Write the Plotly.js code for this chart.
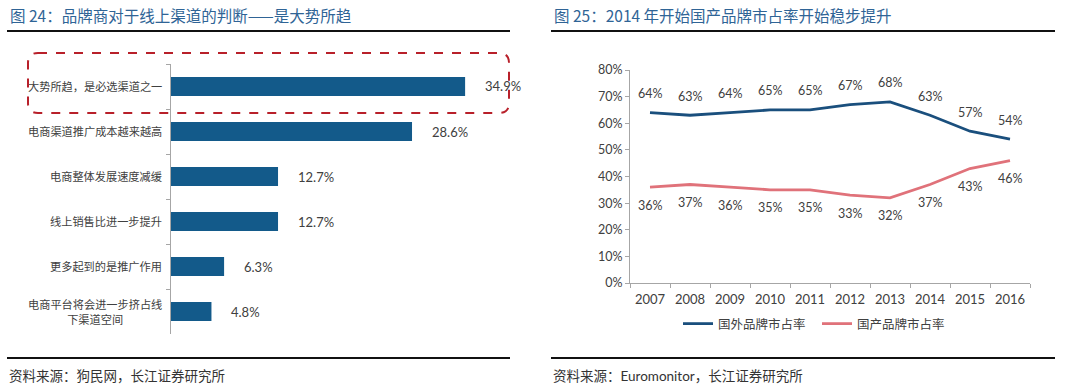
<!DOCTYPE html>
<html>
<head>
<meta charset="utf-8">
<script src="https://cdn.plot.ly/plotly-3.0.1.min.js"></script>
<style>html,body{margin:0;padding:0;background:#fff;}#chart{width:1080px;height:389px;}</style>
</head>
<body>
<div id="chart"></div>
<script>
// ---- Data ----
const barCategories = ['大势所趋，是必选渠道之一', '电商渠道推广成本越来越高', '电商整体发展速度减缓', '线上销售比进一步提升', '更多起到的是推广作用', '电商平台将会进一步挤占线<br>下渠道空间'];
const barValues = [34.9, 28.6, 12.7, 12.7, 6.3, 4.8];

const years = ['2007', '2008', '2009', '2010', '2011', '2012', '2013', '2014', '2015', '2016'];
const foreignShare = [64, 63, 64, 65, 65, 67, 68, 63, 57, 54];
const domesticShare = [36, 37, 36, 35, 35, 33, 32, 37, 43, 46];

const seriesNames = ['国外品牌市占率', '国产品牌市占率'];
const leftTitle = '图 24：品牌商对于线上渠道的判断——是大势所趋';
const rightTitle = '图 25：2014 年开始国产品牌市占率开始稳步提升';
const leftSource = '资料来源：狗民网，长江证券研究所';
const rightSource = '资料来源：Euromonitor，长江证券研究所';

// ---- Layout helpers (pixel -> paper) ----
const W = 1080, H = 389;
const px = x => x / W;
const py = y => 1 - y / H;

const FONT = "Lato, 'Noto Sans CJK SC', sans-serif";
const CJK = "'Noto Sans CJK SC', sans-serif";
const TXT = '#404040';
const BAR = '#135a8a';
const BLUE = '#1a4f7d';
const PINK = '#e0727a';
const AXIS = '#a6a6a6';

const traces = [
  {
    type: 'bar', orientation: 'h',
    x: barValues, y: barCategories,
    xaxis: 'x', yaxis: 'y',
    marker: {color: BAR},
    width: 0.42,
    showlegend: false, hoverinfo: 'skip'
  },
  {
    type: 'scatter', mode: 'lines',
    x: years, y: foreignShare, name: seriesNames[0],
    xaxis: 'x2', yaxis: 'y2',
    line: {color: BLUE, width: 2.8},
    hoverinfo: 'skip'
  },
  {
    type: 'scatter', mode: 'lines',
    x: years, y: domesticShare, name: seriesNames[1],
    xaxis: 'x2', yaxis: 'y2',
    line: {color: PINK, width: 2.8},
    hoverinfo: 'skip'
  }
];

const annotations = [];
// titles
annotations.push({xref: 'paper', yref: 'paper', x: px(8), y: py(15), xanchor: 'left', yanchor: 'middle', showarrow: false,
  text: leftTitle, font: {family: CJK, size: 15.5, color: '#2f6496'}});
annotations.push({xref: 'paper', yref: 'paper', x: px(552), y: py(15), xanchor: 'left', yanchor: 'middle', showarrow: false,
  text: rightTitle, font: {family: CJK, size: 15.5, color: '#2f6496'}});
// sources
annotations.push({xref: 'paper', yref: 'paper', x: px(7), y: py(376), xanchor: 'left', yanchor: 'middle', showarrow: false,
  text: leftSource, font: {family: FONT, size: 13.5, color: '#333333'}});
annotations.push({xref: 'paper', yref: 'paper', x: px(551), y: py(376), xanchor: 'left', yanchor: 'middle', showarrow: false,
  text: rightSource, font: {family: FONT, size: 13.5, color: '#333333'}});

// bar category labels
barCategories.forEach(c => {
  annotations.push({xref: 'paper', yref: 'y', x: px(164), y: c, xanchor: 'right', yanchor: 'middle', align: 'center',
    showarrow: false, text: c, font: {family: FONT, size: 11.2, color: TXT}});
});
// bar value labels
barValues.forEach((v, i) => {
  annotations.push({xref: 'x', yref: 'y', x: v, y: barCategories[i], xanchor: 'left', yanchor: 'middle', xshift: 18,
    showarrow: false, text: v.toFixed(1) + '%', font: {family: FONT, size: 13, color: TXT}});
});
// line labels (category serial numbers on x2)
years.forEach((yr, i) => {
  annotations.push({xref: 'x2', yref: 'y2', x: i, y: foreignShare[i], yshift: 19, xanchor: 'center', yanchor: 'middle', showarrow: false,
    text: foreignShare[i] + '%', font: {family: FONT, size: 12.5, color: TXT}});
  annotations.push({xref: 'x2', yref: 'y2', x: i, y: domesticShare[i], yshift: -18, xanchor: 'center', yanchor: 'middle', showarrow: false,
    text: domesticShare[i] + '%', font: {family: FONT, size: 12.5, color: TXT}});
});

// rounded dashed rectangle (pixels)
function roundRect(x0, y0, x1, y1, r) {
  const P = (x, y) => px(x) + ',' + py(y);
  return 'M' + P(x0 + r, y0) + ' L' + P(x1 - r, y0) +
    ' Q' + P(x1, y0) + ' ' + P(x1, y0 + r) +
    ' L' + P(x1, y1 - r) + ' Q' + P(x1, y1) + ' ' + P(x1 - r, y1) +
    ' L' + P(x0 + r, y1) + ' Q' + P(x0, y1) + ' ' + P(x0, y1 - r) +
    ' L' + P(x0, y0 + r) + ' Q' + P(x0, y0) + ' ' + P(x0 + r, y0) + ' Z';
}

const shapes = [
  {type: 'line', xref: 'paper', yref: 'paper', x0: px(7), x1: px(510), y0: py(31), y1: py(31), line: {color: '#111', width: 2}},
  {type: 'line', xref: 'paper', yref: 'paper', x0: px(7), x1: px(510), y0: py(358), y1: py(358), line: {color: '#111', width: 2}},
  {type: 'line', xref: 'paper', yref: 'paper', x0: px(551), x1: px(1055), y0: py(31), y1: py(31), line: {color: '#111', width: 2}},
  {type: 'line', xref: 'paper', yref: 'paper', x0: px(551), x1: px(1055), y0: py(358), y1: py(358), line: {color: '#111', width: 2}},
  {type: 'path', xref: 'paper', yref: 'paper', path: roundRect(28, 53, 509, 113, 10), line: {color: '#b8202a', width: 2, dash: 'dash'}}
];

const layout = {
  width: W, height: H,
  margin: {l: 0, r: 0, t: 0, b: 0, pad: 0},
  paper_bgcolor: '#ffffff', plot_bgcolor: 'rgba(0,0,0,0)',
  font: {family: FONT, color: TXT},
  bargap: 0.58,
  xaxis: {domain: [px(171), px(530)], range: [0, 42.6], visible: false, fixedrange: true},
  yaxis: {domain: [py(334), py(64)], type: 'category', range: [5.5, -0.5], showticklabels: false,
    ticks: 'outside', tickson: 'boundaries', ticklen: 4, tickcolor: AXIS, showline: true, linecolor: AXIS, linewidth: 1,
    showgrid: false, zeroline: false, fixedrange: true},
  xaxis2: {domain: [px(630), px(1030)], anchor: 'y2', type: 'category', range: [-0.5, 9.5],
    ticks: 'outside', tickson: 'boundaries', ticklen: 4, tickcolor: AXIS, showline: true, linecolor: AXIS, linewidth: 1,
    showgrid: false, zeroline: false, tickfont: {family: FONT, size: 13, color: TXT}, ticklabelstandoff: 4, fixedrange: true},
  yaxis2: {domain: [py(283), py(70)], anchor: 'x2', range: [0, 80], dtick: 10, ticksuffix: '%',
    ticks: 'outside', ticklen: 4, tickcolor: AXIS, showline: true, linecolor: AXIS, linewidth: 1,
    showgrid: false, zeroline: false, tickfont: {family: FONT, size: 12.5, color: TXT}, fixedrange: true},
  showlegend: true,
  legend: {orientation: 'h', x: px(678), y: py(324), xanchor: 'left', yanchor: 'middle',
    font: {family: FONT, size: 12.5, color: TXT}, bgcolor: 'rgba(0,0,0,0)',
    entrywidth: 94, entrywidthmode: 'pixels'},
  annotations: annotations,
  shapes: shapes
};

Plotly.newPlot('chart', traces, layout, {displayModeBar: false, staticPlot: true});
</script>
</body>
</html>
